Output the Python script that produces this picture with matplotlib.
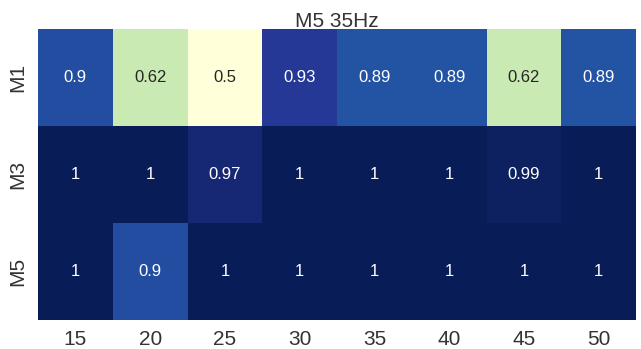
import matplotlib

matplotlib.use("Agg")
import matplotlib.pyplot as plt
import numpy as np
import seaborn as sns

# Accuracy per model (rows) and window size (columns)
models = ["M1", "M3", "M5"]
windows = [15, 20, 25, 30, 35, 40, 45, 50]
acc_m1 = [0.9, 0.62, 0.5, 0.93, 0.89, 0.89, 0.62, 0.89]
acc_m3 = [1, 1, 0.97, 1, 1, 1, 0.99, 1]
acc_m5 = [1, 0.9, 1, 1, 1, 1, 1, 1]

sns.set_theme(style="white")
plt.rcParams["font.family"] = ["Liberation Sans", "DejaVu Sans"]

data = np.array([acc_m1, acc_m3, acc_m5])

fig = plt.figure(figsize=(6.41, 3.49), dpi=100)
ax = fig.add_axes([0.0593, 0.0831, 0.9329, 0.8338])

sns.heatmap(
    data,
    ax=ax,
    cmap="YlGnBu",
    annot=True,
    cbar=False,
    xticklabels=windows,
    yticklabels=models,
    annot_kws={"fontsize": 12},
)

ax.set_title("M5 35Hz", fontsize=15, color="#333333", pad=1.5)
ax.tick_params(axis="x", labelsize=15, colors="#333333", length=0, pad=7)
ax.tick_params(axis="y", labelsize=15, colors="#333333", length=0, pad=8)
plt.setp(ax.get_yticklabels(), rotation=90, va="center")

fig.savefig("out.png", dpi=100)
plt.close(fig)
